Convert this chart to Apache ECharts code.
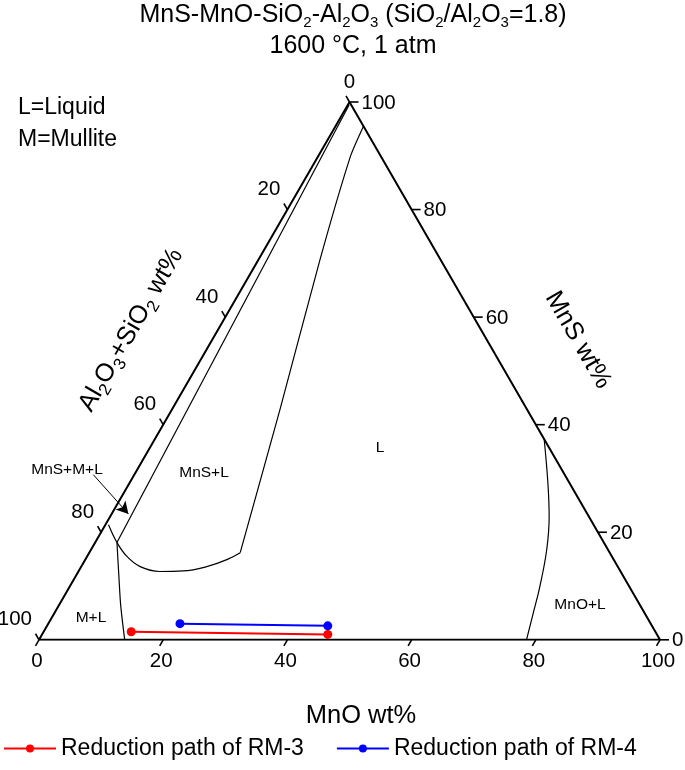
<!DOCTYPE html>
<html><head><meta charset="utf-8">
<script src="https://cdn.jsdelivr.net/npm/echarts@6/dist/echarts.min.js"></script>
<style>html,body{margin:0;padding:0;background:#fff}#c{width:685px;height:770px}</style>
</head><body><div id="c"></div>
<script>
// ---- data (ternary: [MnO wt%, MnS wt%], Al2O3+SiO2 = 100 - MnO - MnS) ----
const tickValues = [0, 20, 40, 60, 80, 100];
const tickLabels = ['0', '20', '40', '60', '80', '100'];
const vertices = [[0, 0], [100, 0], [0, 100], [0, 0]];
const boundaryMnSML = [[0.2, 99.5], [3.5, 18.1]];
const boundaryMnSL = [[4.5, 95.5], [5.2, 89.9], [9.9, 70.7], [17.4, 42.8], [24.3, 16.2]];
const boundaryBottom = [[0.5, 21.4], [3.5, 18.1], [6.4, 15.5], [9.5, 13.6], [13.1, 12.7], [16.8, 12.8], [20.2, 13.6], [22.8, 14.9], [24.3, 16.2]];
const boundaryML = [[3.5, 18.1], [6.8, 12.1], [9.9, 6.5], [13.8, 0]];
const boundaryMnOL = [[62.7, 37.3], [67.4, 29.1], [70.7, 22.9], [73.4, 16.7], [75.7, 9.9], [77.1, 5.0], [78.5, 0]];
const rm3MnO = [14.1, 46.0];
const rm3MnS = [1.5, 1.0];
const rm4MnO = [21.2, 45.2];
const rm4MnS = [3.0, 2.6];
const arrowFrom = [-6.6, 30.7];
const arrowTo = [2.7, 23.4];

// ---- ternary -> cartesian ----
const SQ3 = Math.sqrt(3) / 2;
const toXY = p => [p[0] + p[1] / 2, p[1] * SQ3];

const FONT = '"Liberation Sans", Arial, sans-serif';
const chart = echarts.init(document.getElementById('c'), null, {renderer: 'canvas'});

function tickSeries(points, dir, len, offFn, align, vAlign) {
  return {
    type: 'custom', coordinateSystem: 'cartesian2d', silent: true, z: 6, clip: false,
    data: points.map((p, i) => [toXY(p)[0], toXY(p)[1], i]),
    renderItem: (params, api) => {
      const c = api.coord([api.value(0), api.value(1)]);
      const i = api.value(2);
      const o = offFn(i);
      return {
        type: 'group', children: [
          {type: 'line', shape: {x1: c[0], y1: c[1], x2: c[0] + dir[0] * len, y2: c[1] + dir[1] * len},
           style: {stroke: '#000', lineWidth: 1.6}},
          {type: 'text', x: c[0] + o[0], y: c[1] + o[1],
           style: {text: tickLabels[i], fill: '#000', fontSize: 20.5, fontFamily: FONT, align: o[2] || align, verticalAlign: vAlign}}
        ]
      };
    }
  };
}

const boundaryStyle = {color: '#000', width: 1.2};
function boundary(pts, smooth) {
  return {type: 'line', data: pts.map(toXY), symbol: 'none', smooth: smooth, lineStyle: boundaryStyle, silent: true, z: 4};
}

const subRich = (fs, sfs, lh) => ({
  m: {fontSize: fs, lineHeight: fs, verticalAlign: 'top', fontFamily: FONT, color: '#000'},
  s: {fontSize: sfs, lineHeight: lh, verticalAlign: 'middle', fontFamily: FONT, color: '#000'}
});
const txt = (x, y, text, fs, align) => ({type: 'text', x: x, y: y,
  style: {text: text, fontSize: fs, fontFamily: FONT, fill: '#000', align: align || 'center', verticalAlign: 'middle'}});

const option = {
  animation: false,
  backgroundColor: '#fff',
  grid: {left: 39, top: 102, width: 621, height: 621 * SQ3},
  xAxis: {type: 'value', min: 0, max: 100, show: false},
  yAxis: {type: 'value', min: 0, max: 100 * SQ3, show: false},
  legend: {
    left: 3, top: 737, padding: 0, itemWidth: 52, itemHeight: 10, itemGap: 32,
    textStyle: {fontSize: 23, fontFamily: FONT, color: '#000'},
    data: ['Reduction path of RM-3', 'Reduction path of RM-4']
  },
  graphic: [
    {type: 'text', x: 353, y: 23, style: {
      text: '{m|MnS-MnO-SiO}{s|2}{m|-Al}{s|2}{m|O}{s|3}{m| (SiO}{s|2}{m|/Al}{s|2}{m|O}{s|3}{m|=1.8)}',
      rich: subRich(25, 15, 40), align: 'center', verticalAlign: 'middle'}},
    txt(353, 46, '1600 °C, 1 atm', 25),
    txt(18, 108, 'L=Liquid', 23, 'left'),
    txt(18, 140, 'M=Mullite', 23, 'left'),
    txt(361, 716, 'MnO wt%', 25.5),
    {type: 'text', x: 578, y: 340, rotation: -Math.PI / 3, style: {text: 'MnS wt%', fontSize: 25.5, fontFamily: FONT, fill: '#000', align: 'center', verticalAlign: 'middle'}},
    {type: 'text', x: 138, y: 334, rotation: Math.PI / 3, style: {
      text: '{m|Al}{s|2}{m|O}{s|3}{m|+SiO}{s|2}{m| wt%}',
      rich: subRich(25.5, 17, 42), align: 'center', verticalAlign: 'middle'}},
    txt(380, 448, 'L', 15.5),
    txt(204, 473, 'MnS+L', 15.5),
    txt(67, 470, 'MnS+M+L', 15.5),
    txt(91, 618, 'M+L', 15.5),
    txt(580, 605, 'MnO+L', 15.5)
  ],
  series: [
    {type: 'line', data: vertices.map(toXY), symbol: 'none', lineStyle: {color: '#000', width: 2}, silent: true, z: 5,
     markLine: {silent: true, symbol: ['none', 'arrow'], symbolSize: [10, 12], label: {show: false},
       lineStyle: {color: '#000', width: 1, type: 'solid'},
       data: [[{coord: toXY(arrowFrom)}, {coord: toXY(arrowTo)}]]}},
    boundary(boundaryMnSML, false),
    boundary(boundaryMnSL, 0.2),
    boundary(boundaryBottom, 0.4),
    boundary(boundaryML, 0.3),
    boundary(boundaryMnOL, 0.4),
    tickSeries(tickValues.map(v => [v, 0]), [-0.5, SQ3], 7, () => [-2, 22], 'center', 'middle'),
    tickSeries(tickValues.map(v => [100 - v, v]), [1, 0], 9, () => [12, 1], 'left', 'middle'),
    tickSeries(tickValues.map(v => [0, 100 - v]), [-0.5, -SQ3], 7, i => (i === 0 ? [0, -20, 'center'] : [-7, -20]), 'right', 'middle'),
    {name: 'Reduction path of RM-3', type: 'line', data: rm3MnO.map((m, i) => toXY([m, rm3MnS[i]])),
     symbol: 'circle', symbolSize: 9, lineStyle: {color: '#ff0000', width: 2}, itemStyle: {color: '#ff0000'}, z: 10},
    {name: 'Reduction path of RM-4', type: 'line', data: rm4MnO.map((m, i) => toXY([m, rm4MnS[i]])),
     symbol: 'circle', symbolSize: 9, lineStyle: {color: '#0000ff', width: 2}, itemStyle: {color: '#0000ff'}, z: 10}
  ]
};
chart.setOption(option);
</script>
</body></html>
